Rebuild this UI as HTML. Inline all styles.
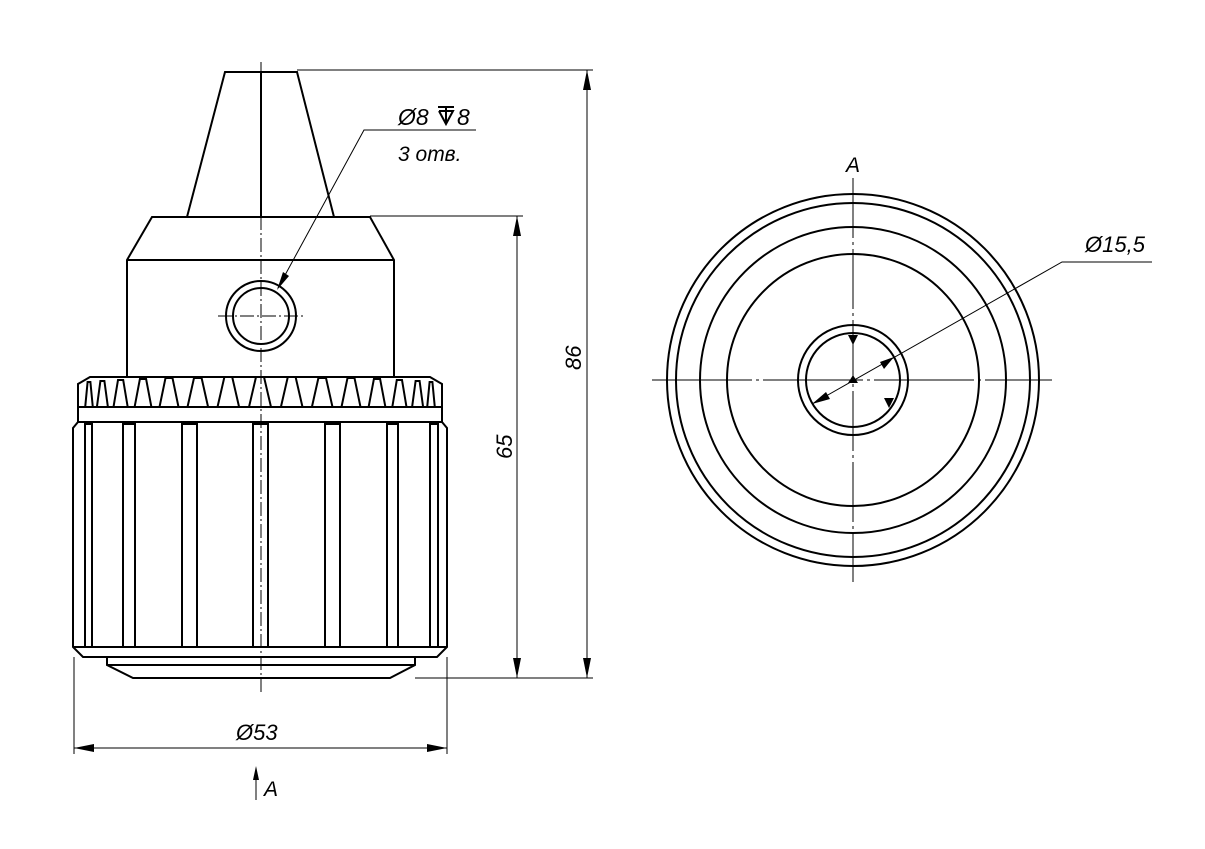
<!DOCTYPE html>
<html><head><meta charset="utf-8"><style>
html,body{margin:0;padding:0;background:#fff;}
svg{display:block}
text{font-family:"Liberation Sans",sans-serif;font-style:italic;fill:#000}
</style></head><body>
<svg width="1205" height="849" viewBox="0 0 1205 849" xmlns="http://www.w3.org/2000/svg">
<g fill="none" stroke="#000" stroke-width="2">
<polyline points="187,217 225,72 297,72 334,217"/>
<polygon points="152,217 370,217 394,260 394,377 127,377 127,260"/>
<line x1="127" y1="260" x2="394" y2="260"/>
<line x1="261" y1="72" x2="261" y2="217"/>
<circle cx="261" cy="316" r="35"/>
<circle cx="261" cy="316" r="28"/>
<polyline points="78,407 78,384 90,377 430,377 442,384 442,407"/>
<rect x="78" y="407" width="364" height="15"/>
<g fill="#fff">
<polygon points="249,407 256,377 264,377 271,407"/>
<polygon points="280.9,407 287.8,377 295.6,377 302.5,407"/>
<polygon points="217.5,407 224.4,377 232.2,377 239.1,407"/>
<polygon points="311.9,407 318.4,378 326,378 332.5,407"/>
<polygon points="187.5,407 194,378 201.6,378 208.1,407"/>
<polygon points="341.5,407 347.5,378 354.5,378 360.5,407"/>
<polygon points="159.5,407 165.5,378 172.5,378 178.5,407"/>
<polygon points="368.6,407 373.9,379 380.1,379 385.4,407"/>
<polygon points="134.6,407 139.9,379 146.1,379 151.4,407"/>
<polygon points="392.3,407 396.8,380 402,380 406.5,407"/>
<polygon points="113.5,407 118,380 123.2,380 127.7,407"/>
<polygon points="412.1,407 415.6,381 419.6,381 423.1,407"/>
<polygon points="96.9,407 100.4,381 104.4,381 107.9,407"/>
<polygon points="427.2,407 429.6,382 432.4,382 434.8,407"/>
<polygon points="85.2,407 87.6,382 90.4,382 92.8,407"/>
</g>
<polygon points="73,428 78,422 442,422 447,428 447,647 437,657 83,657 73,647"/>
<line x1="73" y1="647" x2="447" y2="647"/>
<rect x="85" y="424" width="7" height="223"/>
<rect x="123" y="424" width="12" height="223"/>
<rect x="182" y="424" width="15" height="223"/>
<rect x="253" y="424" width="15" height="223"/>
<rect x="325" y="424" width="15" height="223"/>
<rect x="387" y="424" width="11" height="223"/>
<rect x="430" y="424" width="8" height="223"/>
<polyline points="107,657 107,665 133,678 390,678 415,665 415,657"/>
<line x1="107" y1="665" x2="415" y2="665"/>
</g>
<g fill="none" stroke="#000" stroke-width="1">
<line x1="261" y1="62" x2="261" y2="692" stroke-dasharray="14,3,2,3"/>
<line x1="218" y1="316" x2="304" y2="316" stroke-dasharray="14,3,2,3"/>
<line x1="297" y1="70" x2="593" y2="70"/>
<line x1="370" y1="216" x2="523" y2="216"/>
<line x1="415" y1="678" x2="593" y2="678"/>
<line x1="587" y1="70" x2="587" y2="678"/>
<line x1="517" y1="216" x2="517" y2="678"/>
<line x1="74" y1="657" x2="74" y2="754"/>
<line x1="447" y1="657" x2="447" y2="754"/>
<line x1="74" y1="748" x2="447" y2="748"/>
<polyline points="278,288 364,130 476,130"/>
<line x1="256" y1="800" x2="256" y2="768"/>
</g>
<g fill="#000">
<polygon points="587,70 583,90 591,90"/><polygon points="587,678 583,658 591,658"/>
<polygon points="517,216 513,236 521,236"/><polygon points="517,678 513,658 521,658"/>
<polygon points="74,748 94,744 94,752"/><polygon points="447,748 427,744 427,752"/>
<polygon points="277,290 283,272 289,276"/>
<polygon points="256,766 253,780 259,780"/>
</g>
<!-- depth symbol -->
<g stroke="#000" stroke-width="2" fill="none">
<line x1="438" y1="107" x2="454" y2="107"/>
<polyline points="439,111 446,124 453,111 439,111"/>
<line x1="446" y1="107" x2="446" y2="124"/>
</g>
<text x="398" y="125" font-size="23">Ø8</text>
<text x="457" y="125" font-size="23">8</text>
<text x="398" y="161" font-size="21">3 отв.</text>
<text x="236" y="740" font-size="22">Ø53</text>
<text x="264" y="796" font-size="21">A</text>
<text transform="translate(581,370) rotate(-90)" font-size="22">86</text>
<text transform="translate(512,459) rotate(-90)" font-size="22">65</text>
<g fill="none" stroke="#000" stroke-width="2">
<circle cx="853" cy="380" r="186"/>
<circle cx="853" cy="380" r="177"/>
<circle cx="853" cy="380" r="153"/>
<circle cx="853" cy="380" r="126"/>
<circle cx="853" cy="380" r="55"/>
<circle cx="853" cy="380" r="47"/>
</g>
<g fill="none" stroke="#000" stroke-width="1">
<line x1="853" y1="178" x2="853" y2="582" stroke-dasharray="60,4,3,4"/>
<line x1="652" y1="380" x2="1052" y2="380" stroke-dasharray="100,4,3,4"/>
<polyline points="812,404 1062,262 1152,262"/>
</g>
<g fill="#000">
<polygon points="812,404 826,392 830,399"/><polygon points="894,357 880,362 884,369"/>
<polygon points="848,335 858,335 853,345"/><polygon points="848,383 858,383 853,375"/>
<polygon points="884,398 894,398 889,408"/>
</g>
<text x="846" y="172" font-size="21">A</text>
<text x="1085" y="252" font-size="22">Ø15,5</text>
</svg>
</body></html>
